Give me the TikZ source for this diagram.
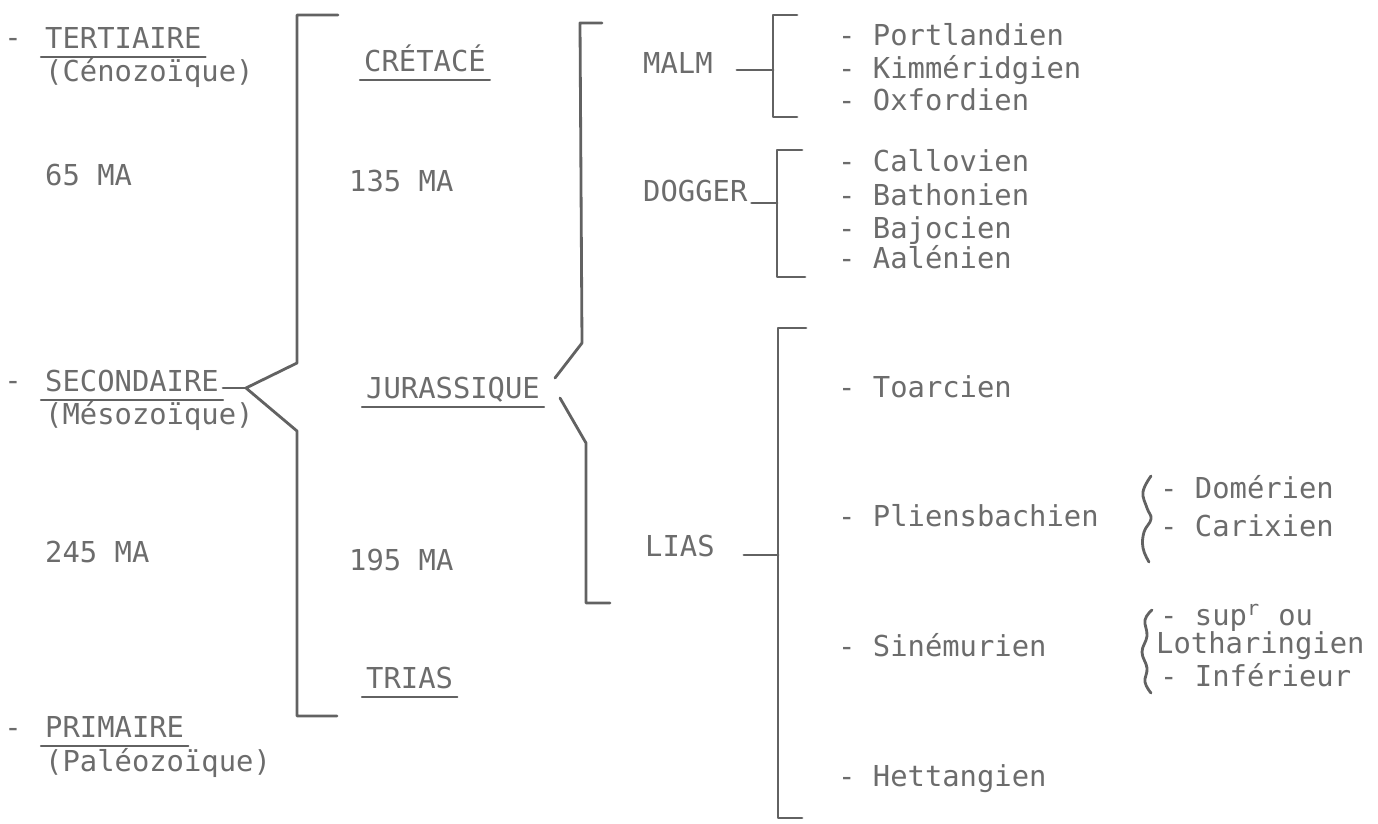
\documentclass[tikz,border=0pt]{standalone}
\usepackage{fontspec}
\setmonofont{DejaVu Sans Mono}
\usepackage{tikz}
\usetikzlibrary{calc}
\definecolor{inkgray}{RGB}{108,108,108}
\definecolor{rulegray}{RGB}{98,98,98}

\begin{document}
\begin{tikzpicture}[x=0.01cm,y=-0.01cm,font=\ttfamily\fontsize{8.2}{10}\selectfont,
  line cap=round,line join=round,
  lbl/.style={anchor=west,inner sep=1pt,text=inkgray,text height=1.4ex,text depth=0.3ex},
  uline/.style={append after command={(\tikzlastnode.south west)
      edge[rulegray,line width=0.6pt] (\tikzlastnode.south east)}},
  bar/.style={rulegray,line width=0.8pt}]
\useasboundingbox (0,0) rectangle (1378,823);

% Eras
\node[lbl,anchor=center] (tertdash) at (13,39) {-};
\node[lbl,uline] (tert) at (41,40) {TERTIAIRE};
\node[lbl] (ceno) at (41,73) {(Cénozoïque)};
\node[lbl] (ma65) at (41,177) {65 MA};
\node[lbl,anchor=center] (secodash) at (13,382) {-};
\node[lbl,uline] (seco) at (41,383) {SECONDAIRE};
\node[lbl] (meso) at (41,416) {(Mésozoïque)};
\node[lbl] (ma245) at (41,554) {245 MA};
\node[lbl,anchor=center] (primdash) at (13,729) {-};
\node[lbl,uline] (prim) at (41,729) {PRIMAIRE};
\node[lbl] (paleo) at (41,763) {(Paléozoïque)};

% Periods
\node[lbl,uline] (creta) at (360,63) {CRÉTACÉ};
\node[lbl] (ma135) at (345,183) {135 MA};
\node[lbl,uline] (jura) at (362,390) {JURASSIQUE};
\node[lbl] (ma195) at (345,562) {195 MA};
\node[lbl,uline] (trias) at (362,680) {TRIAS};

\coordinate (eratip) at (246,388);
\draw[bar] (338,15) -- (297,15) -- (297,363) -- (eratip) -- (297,431) -- (297,716) -- (337,716);
\draw[bar] (eratip -| seco.east) -- (eratip);

% Epochs of the Jurassic
\node[lbl] (malm) at (639,65) {MALM};
\node[lbl] (dogger) at (639,193) {DOGGER};
\node[lbl] (lias) at (641,548) {LIAS};

\coordinate (jurtop) at (555,378);
\coordinate (jurbot) at (560,398);
\draw[bar] (602,23) -- (580,23) -- (582,343) -- (jurtop);
\draw[bar] (jurbot) -- (586,443) -- (586,603) -- (610,603);

% Stages
\node[lbl] (portl) at (834,37) {- Portlandien};
\node[lbl] (kimm) at (834,70) {- Kimméridgien};
\node[lbl] (oxf) at (834,102) {- Oxfordien};
\node[lbl] (call) at (834,163) {- Callovien};
\node[lbl] (bath) at (834,197) {- Bathonien};
\node[lbl] (bajo) at (834,230) {- Bajocien};
\node[lbl] (aale) at (834,260) {- Aalénien};
\node[lbl] (toar) at (834,389) {- Toarcien};
\node[lbl] (plien) at (834,518) {- Pliensbachien};
\node[lbl] (sine) at (834,648) {- Sinémurien};
\node[lbl] (hett) at (834,778) {- Hettangien};

\coordinate (malmtip) at (773,70);
\draw[bar] (797,15) -- (773,15) -- (773,117) -- (797,117);
\draw[bar,shorten <=0.2cm] (malmtip -| malm.east) -- (malmtip);

\coordinate (dogtip) at (777,203);
\draw[bar] (802,150) -- (777,150) -- (777,277) -- (805,277);
\draw[bar] (dogtip -| dogger.east) -- (dogtip);

\coordinate (liastip) at (778,555);
\draw[bar] (806,328) -- (778,328) -- (778,818) -- (802,818);
\draw[bar,shorten <=0.25cm] (liastip -| lias.east) -- (liastip);

% Substages
\node[lbl] (domer) at (1156,490) {- Domérien};
\node[lbl] (carix) at (1156,528) {- Carixien};
\node[lbl] (supr) at (1156,617) {- sup\textsuperscript{r} ou};
\node[lbl] (lotha) at (1152,645) {Lotharingien};
\node[lbl] (infer) at (1156,678) {- Inférieur};

\draw[bar] plot[smooth,tension=0.7] coordinates {(1151,476) (1143,492) (1147,508)
  (1151,519) (1144,532) (1143,548) (1149,562)};
\draw[bar] plot[smooth,tension=0.7] coordinates {(1152,610) (1145,620) (1147,636)
  (1142,652) (1147,668) (1145,682) (1151,693)};
\end{tikzpicture}
\end{document}
